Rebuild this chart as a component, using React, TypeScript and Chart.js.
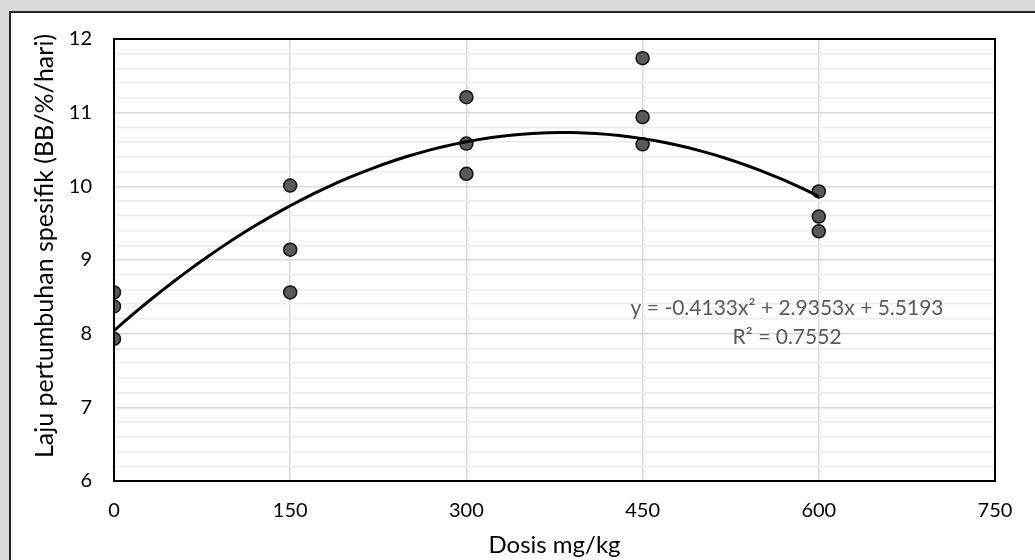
import React, { useEffect, useRef } from "react";
import { Chart, registerables } from "chart.js";

Chart.register(...registerables);

// Doses (mg/kg) and measured specific growth rate (three replicates per dose)
const doses = [0, 0, 0, 150, 150, 150, 300, 300, 300, 450, 450, 450, 600, 600, 600];
const growthRates = [8.56, 8.37, 7.93, 10.01, 9.14, 8.56, 11.21, 10.58, 10.17, 11.74, 10.94, 10.57, 9.93, 9.59, 9.39];

// Polynomial trendline as printed on the chart (x = treatment index 1..5)
const trendCoefficients = [5.5193, 2.9353, -0.4133]; // c0 + c1*x + c2*x^2
const trendStart = 0;
const trendEnd = 600;
const trendStep = 10;
const equationLines = ["y = -0.4133x² + 2.9353x + 5.5193", "R² = 0.7552"];
const equationAnchor = { x: 573, y: 8.35 };

const xTicks = [0, 150, 300, 450, 600, 750];
const yMin = 6;
const yMax = 12;
const xTitle = "Dosis mg/kg";
const yTitle = "Laju pertumbuhan spesifik (BB/%/hari)";

const FONT = "Lato, 'Open Sans', sans-serif";

export default function App() {
  const ref = useRef<HTMLCanvasElement | null>(null);

  useEffect(() => {
    document.body.style.margin = "0";
    if (!ref.current) return;

    const scatterData = doses.map((d, i) => ({ x: d, y: growthRates[i] }));
    const trendData: { x: number; y: number }[] = [];
    for (let d = trendStart; d <= trendEnd; d += trendStep) {
      const t = d / 150 + 1;
      trendData.push({
        x: d,
        y: trendCoefficients[0] + trendCoefficients[1] * t + trendCoefficients[2] * t * t,
      });
    }

    const borderPlugin = {
      id: "plotBorder",
      afterDatasetsDraw(chart: any) {
        const { ctx, chartArea } = chart;
        ctx.save();
        ctx.strokeStyle = "#000000";
        ctx.lineWidth = 2;
        ctx.strokeRect(chartArea.left, chartArea.top, chartArea.right - chartArea.left, chartArea.bottom - chartArea.top);
        ctx.restore();
      },
      afterDraw(chart: any) {
        const { ctx } = chart;
        const xs = chart.scales.x;
        const ys = chart.scales.y;
        const cx = xs.getPixelForValue(equationAnchor.x);
        const cy = ys.getPixelForValue(equationAnchor.y);
        ctx.save();
        ctx.fillStyle = "#595959";
        ctx.font = `21px ${FONT}`;
        ctx.textAlign = "center";
        ctx.textBaseline = "middle";
        equationLines.forEach((l, i) => ctx.fillText(l, cx, cy + i * 29));
        // rotated y-axis title, centred on the whole chart box like the original
        ctx.fillStyle = "#000000";
        ctx.font = `25px ${FONT}`;
        ctx.translate(34, 233);
        ctx.rotate(-Math.PI / 2);
        ctx.fillText(yTitle, 0, 0);
        ctx.restore();
      },
    };

    const chart = new Chart(ref.current, {
      type: "scatter",
      data: {
        datasets: [
          {
            type: "line",
            data: trendData,
            borderColor: "#000000",
            borderWidth: 3,
            pointRadius: 0,
            tension: 0,
            fill: false,
            order: 0,
          } as any,
          {
            data: scatterData,
            backgroundColor: "#595959",
            borderColor: "#111111",
            borderWidth: 1.5,
            pointRadius: 6.5,
            order: 1,
          },
        ],
      },
      options: {
        animation: false,
        responsive: false,
        layout: { padding: { left: 0, top: 26, right: 40, bottom: 0 } },
        plugins: { legend: { display: false }, tooltip: { enabled: false } },
        scales: {
          x: {
            type: "linear",
            min: 0,
            max: 750,
            afterFit: (s: any) => {
              s.height = 79;
            },
            afterBuildTicks: (s: any) => {
              s.ticks = xTicks.map((v) => ({ value: v }));
            },
            border: { display: false },
            grid: { color: "#d9d9d9", lineWidth: 1.5, drawTicks: false },
            ticks: { color: "#000000", font: { family: FONT, size: 20 }, padding: 18 },
            title: {
              display: true,
              text: xTitle,
              color: "#000000",
              font: { family: FONT, size: 24 },
              padding: { top: 0, bottom: 0 },
            },
          },
          y: {
            type: "linear",
            min: yMin,
            max: yMax,
            afterFit: (s: any) => {
              s.width = 103;
              s.paddingTop = 0;
              s.paddingBottom = 0;
            },
            border: { display: false },
            grid: {
              drawTicks: false,
              color: (c: any) => {
                const v = c.tick ? c.tick.value : 0;
                return Math.abs(v - Math.round(v)) < 1e-6 ? "#d9d9d9" : "#ececec";
              },
              lineWidth: 1.5,
            },
            ticks: {
              stepSize: 0.2,
              autoSkip: false,
              color: "#000000",
              font: { family: FONT, size: 20 },
              padding: 22,
              callback: (v: any) => {
                const n = Number(v);
                return Math.abs(n - Math.round(n)) < 1e-6 ? String(Math.round(n)) : "";
              },
            },
          },
        },
      },
      plugins: [borderPlugin],
    });

    return () => chart.destroy();
  }, []);

  return (
    <div style={{ position: "relative", width: 1035, height: 560, background: "#d9d9d9", overflow: "hidden" }}>
      <div
        style={{
          position: "absolute",
          left: 9,
          top: 11,
          width: 1040,
          height: 560,
          background: "#ffffff",
          borderLeft: "2px solid #262626",
          borderTop: "2px solid #262626",
        }}
      >
        <canvas ref={ref} width={1024} height={547} style={{ display: "block", width: 1024, height: 547 }} />
      </div>
    </div>
  );
}
